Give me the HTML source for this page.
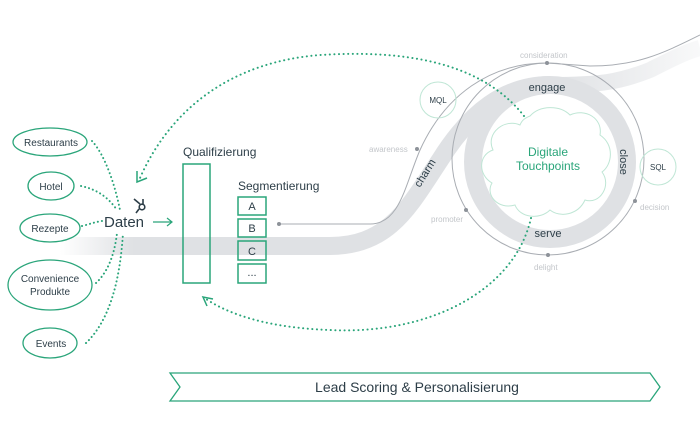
<!DOCTYPE html>
<html><head><meta charset="utf-8"><style>
html,body{margin:0;padding:0;background:#fff;}
svg{display:block;font-family:"Liberation Sans",sans-serif;}
</style></head><body>
<svg width="700" height="430" viewBox="0 0 700 430" xmlns="http://www.w3.org/2000/svg">
<defs>
<linearGradient id="fadeL" x1="0" x2="1" y1="0" y2="0">
<stop offset="0" stop-color="#dfe1e4" stop-opacity="0"/>
<stop offset="0.15" stop-color="#dfe1e4" stop-opacity="1"/>
<stop offset="1" stop-color="#dfe1e4"/>
</linearGradient>
<linearGradient id="fadeR" x1="0" x2="1" y1="0" y2="0">
<stop offset="0" stop-color="#dfe1e4"/>
<stop offset="1" stop-color="#dfe1e4" stop-opacity="0.2"/>
</linearGradient>
</defs>
<path d="M60,246 L330,246 C390,246 410,205 440,160 C470,112 505,85 550,85" fill="none" stroke="url(#fadeL)" stroke-width="18"/>
<circle cx="550" cy="162" r="77" fill="none" stroke="#dfe1e4" stroke-width="18"/>
<path d="M550,85 C600,85 620,82 650,70 C670,60 685,52 700,48" fill="none" stroke="url(#fadeR)" stroke-width="16"/>
<g fill="none" stroke="#a9adb3" stroke-width="1">
<path d="M279,224 L370,224 C400,224 405,185 420,150 C445,95 490,63 547,63"/>
<circle cx="548" cy="159" r="96"/>
<path d="M547,63 L590,66 C635,66 660,55 700,35"/>
</g>
<g fill="#8d9299">
<circle cx="279" cy="224" r="2"/><circle cx="417" cy="149" r="2"/><circle cx="547" cy="63" r="2"/>
<circle cx="635" cy="201" r="2"/><circle cx="548" cy="255" r="2"/><circle cx="466" cy="210" r="2"/>
</g>
<g font-size="8" fill="#c3c6ca">
<text x="520" y="58">consideration</text>
<text x="369" y="152">awareness</text>
<text x="640" y="210">decision</text>
<text x="431" y="222">promoter</text>
<text x="534" y="270">delight</text>
</g>
<path d="M530,116 C540,105 560,105 570,115 C585,108 603,118 600,135 C615,145 612,165 602,172 C612,185 600,205 585,200 C578,215 560,218 550,210 C540,220 520,218 515,205 C498,210 485,195 492,183 C478,175 478,155 493,150 C485,133 505,118 520,125 C522,120 525,118 530,116 Z" fill="#fff" stroke="#bfe6d5" stroke-width="1"/>
<text x="548" y="156" font-size="12" fill="#2aa57a" text-anchor="middle">Digitale</text>
<text x="548" y="170" font-size="12" fill="#2aa57a" text-anchor="middle">Touchpoints</text>
<g font-size="11" fill="#2d3e48">
<text x="547" y="91" text-anchor="middle">engage</text>
<text x="548" y="237" text-anchor="middle">serve</text>
<text transform="translate(620,162) rotate(90)" text-anchor="middle">close</text>
<text transform="translate(428,175) rotate(-58)" text-anchor="middle">charm</text>
</g>
<circle cx="438" cy="100" r="18" fill="none" stroke="#bfe6d5"/>
<text x="438" y="103" font-size="8" fill="#2d3e48" text-anchor="middle">MQL</text>
<circle cx="658" cy="167" r="18" fill="none" stroke="#bfe6d5"/>
<text x="658" y="170" font-size="8" fill="#2d3e48" text-anchor="middle">SQL</text>
<g fill="none" stroke="#2aa57a" stroke-width="2" stroke-dasharray="0.1,4.5" stroke-linecap="round">
<path d="M524,116 C480,60 400,50 320,55 C230,62 170,110 140,178"/>
<path d="M531,218 C515,290 430,335 330,330 C270,328 230,315 206,299"/>
</g>
<g fill="none" stroke="#2aa57a" stroke-width="1.5">
<path d="M137,171 L137,182 L147,178"/>
<path d="M213,299 L203,297 L207,306"/>
</g>
<g fill="none" stroke="#2aa57a" stroke-width="1.3">
<ellipse cx="50" cy="142" rx="37" ry="14"/>
<ellipse cx="51" cy="186" rx="23" ry="14"/>
<ellipse cx="50" cy="228" rx="30" ry="14"/>
<ellipse cx="50" cy="285" rx="42" ry="25"/>
<ellipse cx="50" cy="343" rx="27" ry="15"/>
</g>
<g font-size="10" fill="#2d3e48" text-anchor="middle">
<text x="51" y="146">Restaurants</text>
<text x="51" y="190">Hotel</text>
<text x="50" y="232">Rezepte</text>
<text x="50" y="282">Convenience</text>
<text x="50" y="295">Produkte</text>
<text x="51" y="347">Events</text>
</g>
<g fill="none" stroke="#2aa57a" stroke-width="2" stroke-dasharray="0.1,4" stroke-linecap="round">
<path d="M92,141 C105,155 115,185 120,210"/>
<path d="M81,186 C100,190 110,200 117,210"/>
<path d="M82,226 C90,224 95,222 102,221"/>
<path d="M96,283 C110,270 115,250 117,233"/>
<path d="M86,343 C110,320 120,280 123,233"/>
</g>
<text x="104" y="227" font-size="15" fill="#2d3e48">Daten</text>
<g stroke="#2d3e48" stroke-width="1.6" fill="none">
<circle cx="142" cy="207" r="2.8"/>
<path d="M140,204 L134,199 M143,204 L143,199 M139,209 L136,213"/>
</g>
<path d="M153,222 L172,222 M167,218 L172,222 L167,226" stroke="#2aa57a" stroke-width="1.2" fill="none"/>
<text x="183" y="156" font-size="12" fill="#2d3e48">Qualifizierung</text>
<rect x="183" y="164" width="27" height="119" fill="none" stroke="#2aa57a" stroke-width="1.5"/>
<text x="238" y="190" font-size="12" fill="#2d3e48">Segmentierung</text>
<g fill="none" stroke="#2aa57a" stroke-width="1.5">
<rect x="238" y="197" width="28" height="18"/>
<rect x="238" y="219" width="28" height="18"/>
<rect x="238" y="241" width="28" height="19"/>
<rect x="238" y="264" width="28" height="19"/>
</g>
<g font-size="11" fill="#2d3e48" text-anchor="middle">
<text x="252" y="210">A</text><text x="252" y="232">B</text><text x="252" y="255">C</text><text x="252" y="276">...</text>
</g>
<path d="M170,373 L650,373 L660,387 L650,401 L170,401 L180,387 Z" fill="#fff" stroke="#2aa57a" stroke-width="1.3"/>
<text x="417" y="392" font-size="14" fill="#2d3e48" text-anchor="middle">Lead Scoring &amp; Personalisierung</text>
</svg>
</body></html>
